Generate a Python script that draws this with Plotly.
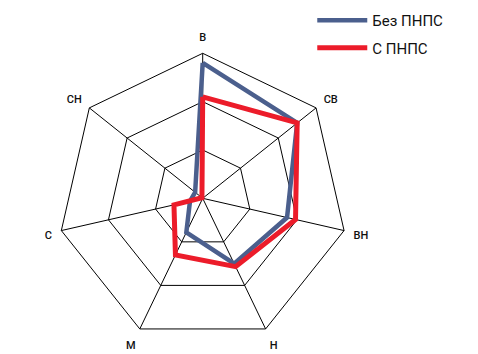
import plotly.graph_objects as go

categories = ["В", "СВ", "ВН", "Н", "М", "С", "СН"]
bez_pnps = [2.8, 2.5, 1.79, 1.5, 0.78, 0.27, 0.2]
s_pnps = [2.1, 2.5, 1.97, 1.57, 1.3, 0.61, 0.02]
series_names = ["Без ПНПС", "С ПНПС"]
ring_ticks = [1, 2, 3]

W, H = 478, 354
cx, cy, R = 202.7, 198.3, 145.0

def closed(v):
    return list(v) + [v[0]]

fig = go.Figure()
fig.add_trace(go.Scatterpolar(
    r=closed(bez_pnps), theta=closed(categories), mode="lines",
    name=series_names[0], legendgroup="a", line=dict(color="#4b5f8d", width=4.5),
))
fig.add_trace(go.Scatterpolar(
    r=closed(s_pnps), theta=closed(categories), mode="lines",
    name=series_names[1], legendgroup="b", line=dict(color="#ec1c2a", width=5),
))

fig.update_layout(
    width=W, height=H,
    margin=dict(l=0, r=0, t=0, b=0),
    paper_bgcolor="white", plot_bgcolor="white",
    font=dict(family="Roboto, Arial, sans-serif", color="#111111"),
    polar=dict(
        domain=dict(x=[(cx - R) / W, (cx + R) / W], y=[1 - (cy + R) / H, 1 - (cy - R) / H]),
        gridshape="linear",
        bgcolor="white",
        radialaxis=dict(range=[0, 3], tickvals=ring_ticks, showticklabels=False, ticks="",
                        showline=False, gridcolor="black", gridwidth=1),
        angularaxis=dict(direction="clockwise", rotation=90, showline=True,
                         linecolor="black", linewidth=1, gridcolor="black", gridwidth=1,
                         ticks="outside", ticklen=7, tickcolor="rgba(0,0,0,0)",
                         tickfont=dict(size=11, color="#111111", weight=500)),
    ),
    legend=dict(x=318 / W - 0.012, y=1 - 4 / H, xanchor="left", yanchor="top",
                font=dict(size=15, color="#111111"), itemwidth=50,
                bgcolor="rgba(0,0,0,0)", tracegroupgap=5),
    showlegend=True,
)

fig.write_html("out.html")
